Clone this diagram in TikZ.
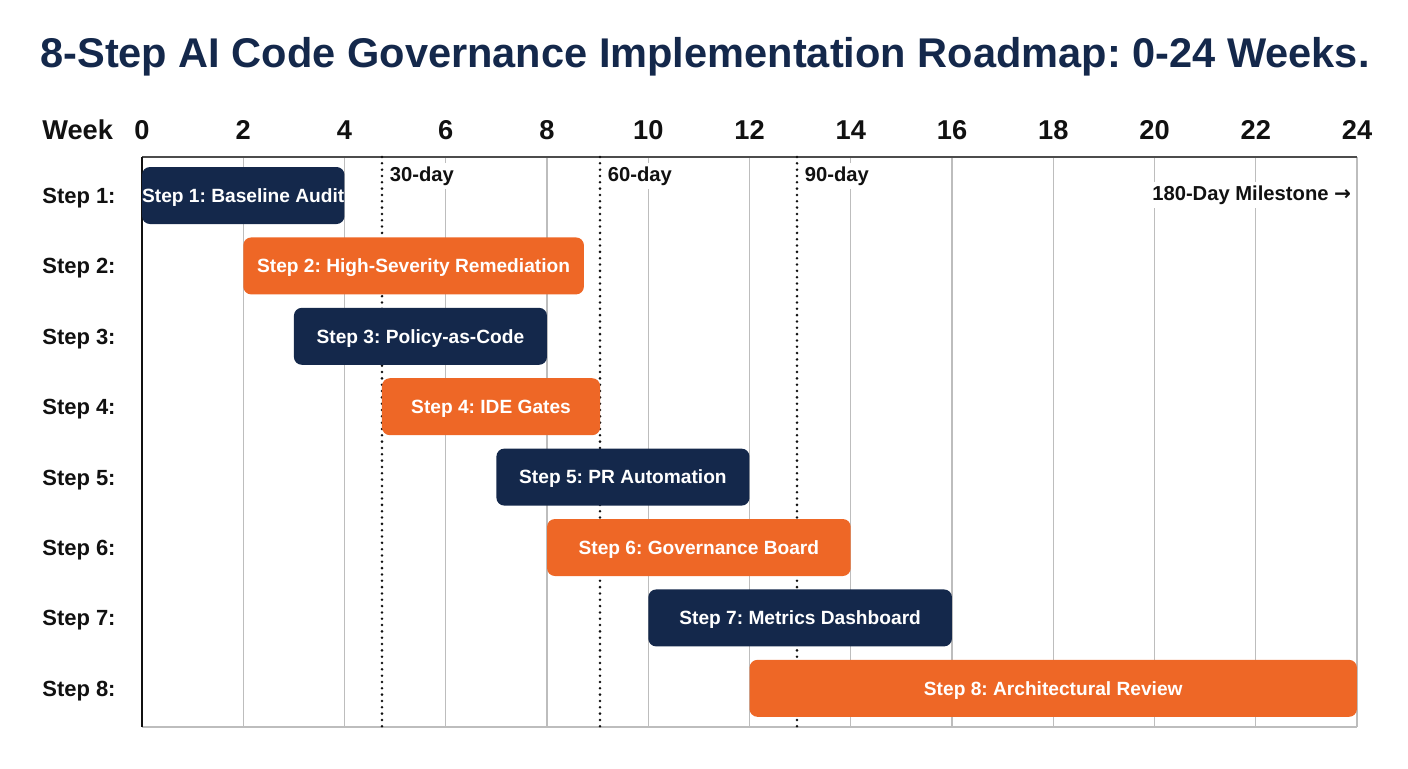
\documentclass[tikz,border=0pt]{standalone}
\usepackage{fontspec}
\setmainfont{Liberation Sans}
\newfontfamily\arrowfont{DejaVu Sans}
\usetikzlibrary{positioning,calc}
\frenchspacing
\definecolor{Navy}{HTML}{14284B}
\definecolor{Flame}{HTML}{EE6726}
\definecolor{Rule}{HTML}{BDBDBD}
\definecolor{Ink}{HTML}{111111}
\tikzset{
  gantt bar/.style={rounded corners=4.5pt,minimum height=1.14cm,inner sep=0pt,
    text=white,text height=7.8pt,text depth=0pt,
    font=\fontsize{10.9}{12}\selectfont\bfseries},
  row label/.style={anchor=west,inner sep=0pt,text=Ink,text height=9pt,text depth=0pt,
    font=\fontsize{12.5}{14}\selectfont\bfseries},
  week label/.style={inner sep=0pt,text=Ink,text height=11.1pt,text depth=0pt,
    font=\fontsize{15.5}{18}\selectfont\bfseries},
  mark label/.style={anchor=west,fill=white,inner sep=2pt,text=Ink,
    font=\fontsize{11.5}{13}\selectfont\bfseries},
  grid line/.style={draw=Rule,line width=.8pt},
  day line/.style={draw=Ink,line width=1.6pt,dash pattern=on 0pt off 3.6pt,line cap=round}
}

\begin{document}
\begin{tikzpicture}[x=0.02cm,y=-0.02cm]
  \useasboundingbox (0,0) rectangle (1408,768);
  \node[anchor=base west,inner sep=0pt,text=Navy,font=\fontsize{23.65}{28}\selectfont\bfseries]
    (title) at (40,67) {8-Step AI Code Governance Implementation Roadmap: 0-24 Weeks.};
  % frame corners
  \coordinate (tl) at (142,157);
  \coordinate (tr) at (1357,157);
  \coordinate (bl) at (142,727);
  \coordinate (br) at (1357,727);
  % week axis
  \node[week label,anchor=west] (week) at (42,130) {Week};
  \foreach \w in {0,2,...,24}
    \node[week label] (w\w) at ({142+\w*50.625},130) {\w};
  \foreach \w in {2,4,...,24}
    \draw[grid line] (w\w |- tl) -- (w\w |- bl);
  % day marks
  \coordinate (d30) at (382,157);
  \coordinate (d60) at (600,157);
  \coordinate (d90) at (797,157);
  \node[mark label] (m30) at (386,176) {30-day};
  \node[mark label] (m60) at (604,176) {60-day};
  \node[mark label] (m90) at (801,176) {90-day};
  \node[mark label,anchor=east] (m180) at (1355,195) {180-Day Milestone {\arrowfont→}};
  \draw[grid line] (bl) -- (br);
  \draw[draw=Ink!75,line width=1.1pt] (tl) -- (tr);
  \draw[draw=Ink,line width=.9pt] (tl) -- (bl);
  \foreach \d in {30,60,90}
    \draw[day line] (d\d) -- (d\d |- bl);
  % steps
  \foreach \i/\s/\e/\c/\t in {1/0/4/Navy/Baseline Audit,
      2/2/8.73/Flame/High-Severity Remediation,
      3/3/8/Navy/Policy-as-Code,
      4/4.74/9.05/Flame/IDE Gates,
      5/7/12/Navy/PR Automation,
      6/8/14/Flame/Governance Board,
      7/10/16/Navy/Metrics Dashboard,
      8/12/24/Flame/Architectural Review}{
    \node[row label] (s\i) at (42,{195.5+(\i-1)*70.4}) {Step \i:};
    \node[gantt bar,fill=\c,minimum width={(\e-\s)*1.0125cm}]
      (bar\i) at ({142+(\s+\e)/2*50.625},{195.5+(\i-1)*70.4}) {Step \i: \t};
  }
\end{tikzpicture}
\end{document}
